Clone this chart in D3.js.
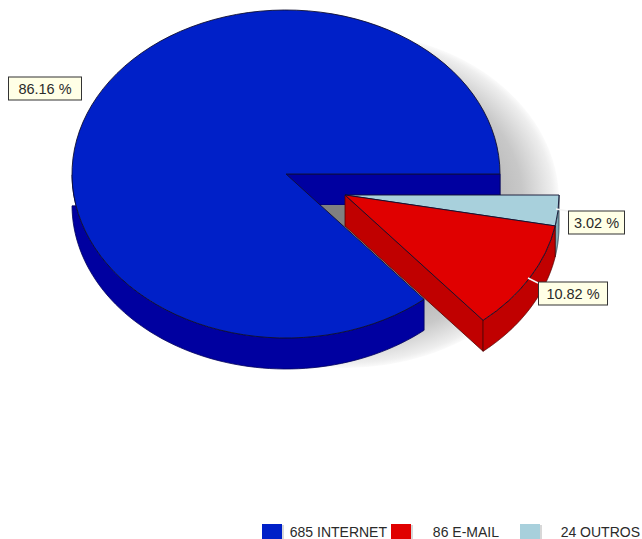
<!DOCTYPE html>
<html><head><meta charset="utf-8">
<script src="https://cdn.jsdelivr.net/npm/d3@7"></script>
<style>html,body{margin:0;padding:0;background:#fff}svg{display:block}text{font-family:"Liberation Sans",Arial,sans-serif;fill:#2a2a2a}</style>
</head><body><script>
const categories=["INTERNET","E-MAIL","OUTROS"];
const values=[685,86,24];
const percentLabels=["86.16 %","10.82 %","3.02 %"];
const topColors=["#0020c8","#e00000","#a8d0dc"];
const wallColors=["#0000a0","#c00000","#7fa8b4"];
const W=642,H=539;
const rx=214,ry=164,depth=31;
const center=[286,174],apex=[345,195];
const svg=d3.select("body").append("svg").attr("width",W).attr("height",H);
const defs=svg.append("defs");
const grad=defs.append("radialGradient").attr("id","sh");
[[0,"#a0a0a0"],[.6,"#b0b0b0"],[.83,"#c8c8c8"],[.97,"#eeeeee"],[1,"#fbfbfb"]].forEach(s=>grad.append("stop").attr("offset",s[0]).attr("stop-color",s[1]));

const pie=d3.pie().sort(null).startAngle(Math.PI/2).endAngle(Math.PI/2-2*Math.PI);
const arcs=pie(values);
const arc=d3.arc().innerRadius(0).outerRadius(rx);
const px=(o,a)=>o[0]+rx*Math.sin(a), py=(o,a)=>o[1]-ry*Math.cos(a);

function wallPts(o,a0,a1){
  const n=160,pts=d3.range(n+1).map(i=>a0+(a1-a0)*i/n).filter(a=>Math.cos(a)<=0.0001||Math.abs(a1-a0)<Math.PI/2);
  const top=pts.map(a=>[px(o,a),py(o,a)]);
  const bot=pts.map(a=>[px(o,a),py(o,a)+depth]).reverse();
  return top.concat(bot);
}
const poly=d3.line().curve(d3.curveLinearClosed);
const edge="#00005a";

svg.append("ellipse").attr("cx",apex[0]).attr("cy",apex[1]+5).attr("rx",rx).attr("ry",ry+4).attr("fill","url(#sh)");

const blue=arcs[0],red=arcs[1],teal=arcs[2];
svg.append("path").attr("d",poly(wallPts(center,blue.startAngle,blue.endAngle))).attr("fill",wallColors[0]).attr("stroke",edge).attr("stroke-width",.8);
const eastEnd=[px(center,blue.startAngle),py(center,blue.startAngle)];
svg.append("path").attr("d",poly([center,eastEnd,[eastEnd[0],eastEnd[1]+depth],[center[0],center[1]+depth]])).attr("fill",wallColors[0]).attr("stroke",edge).attr("stroke-width",.8);
const cut=[px(center,blue.endAngle),py(center,blue.endAngle)];
const floorY=center[1]+depth;
const cutX=center[0]+(cut[0]-center[0])*depth/(cut[1]-center[1]);
svg.append("path").attr("d",poly([[cutX,floorY],[apex[0],floorY],[apex[0],apex[1]+depth+2]])).attr("fill","#808080");
const slice=(o,d,i)=>svg.append("path").attr("transform",`translate(${o[0]},${o[1]}) scale(1,${ry/rx})`).attr("d",arc(d)).attr("fill",topColors[i]).attr("stroke","#101030").attr("stroke-width",.9).attr("vector-effect","non-scaling-stroke");
slice(center,blue,0);

svg.append("path").attr("d",poly(wallPts(apex,teal.startAngle,teal.endAngle))).attr("fill",wallColors[2]).attr("stroke","#203040").attr("stroke-width",.8);
slice(apex,teal,2);

const redCorner=[px(apex,red.startAngle),py(apex,red.startAngle)];
svg.append("path").attr("d",poly([apex,redCorner,[redCorner[0],redCorner[1]+depth],[apex[0],apex[1]+depth]])).attr("fill",wallColors[1]).attr("stroke","#500000").attr("stroke-width",.8);
svg.append("path").attr("d",poly(wallPts(apex,red.startAngle,red.endAngle))).attr("fill",wallColors[1]).attr("stroke","#500000").attr("stroke-width",.8);
slice(apex,red,1);

const labelBoxes=[[8.5,77,73,23],[538.5,282,69,23],[568.5,211,56,23]];
const leaders=[null,[[528,278],[538,283]],[[556,209],[568,211]]];
leaders.forEach(l=>{if(l)svg.append("path").attr("d",d3.line()(l)).attr("stroke","#f4f4f4").attr("stroke-width",1.4).attr("fill","none");});
percentLabels.forEach((t,i)=>{
  const b=labelBoxes[i];
  svg.append("rect").attr("x",b[0]).attr("y",b[1]).attr("width",b[2]).attr("height",b[3]).attr("fill","#ffffe6").attr("stroke","#333").attr("stroke-width",1);
  svg.append("text").attr("x",b[0]+b[2]/2).attr("y",b[1]+17).attr("text-anchor","middle").attr("font-size",14.5).text(t);
});

const legendX=d3.scaleLinear().domain([0,1]).range([262,391]);
categories.forEach((c,i)=>{
  const x=legendX(i);
  svg.append("rect").attr("x",x+2).attr("y",525).attr("width",20).attr("height",15).attr("fill","#d8d8d8");
  svg.append("rect").attr("x",x).attr("y",524).attr("width",20).attr("height",15).attr("fill",topColors[i]);
});
const legendTextEnd=[387,499,640];
categories.forEach((c,i)=>{
  svg.append("text").attr("x",legendTextEnd[i]).attr("y",537).attr("text-anchor","end").attr("font-size",14).text(values[i]+" "+c);
});
</script></body></html>
